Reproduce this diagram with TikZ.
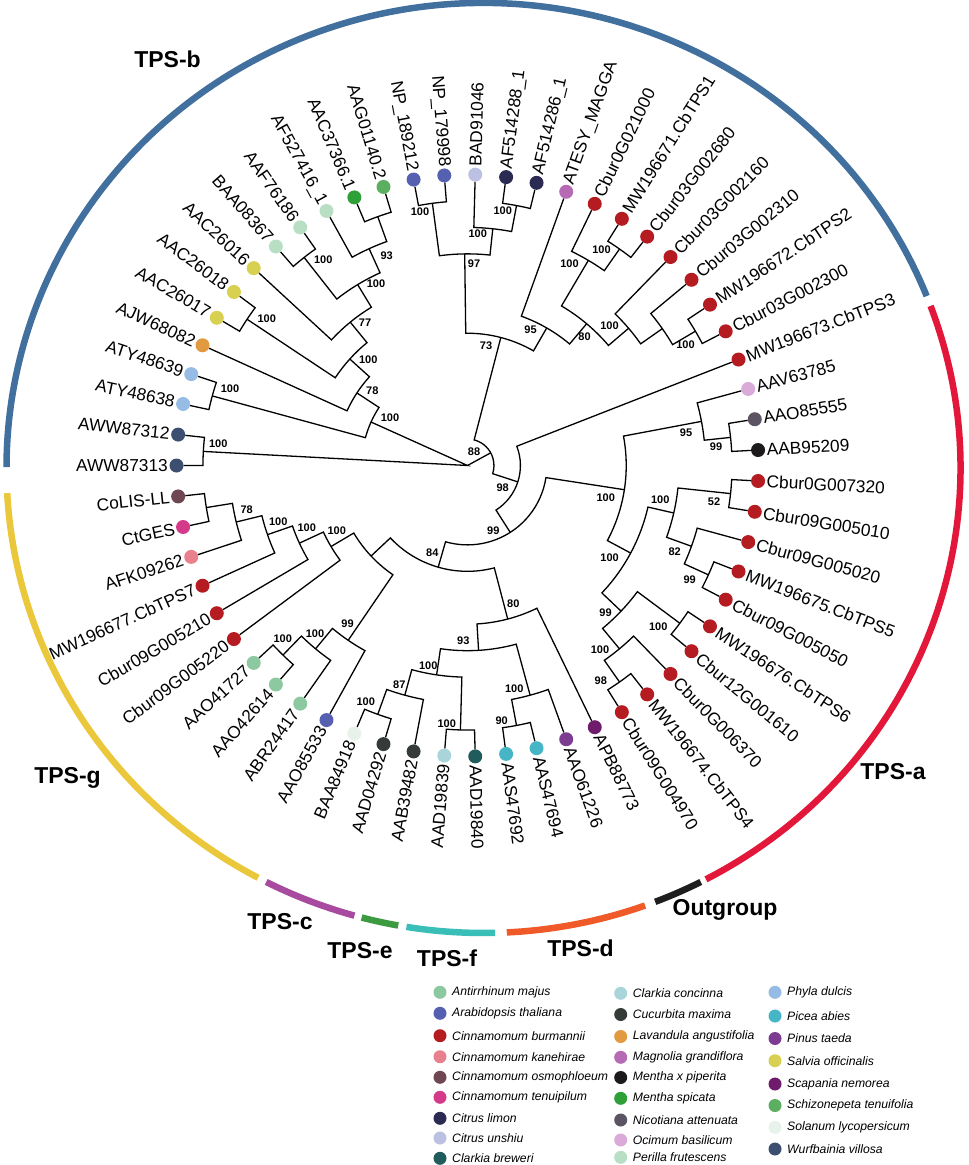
\documentclass[tikz,border=0pt]{standalone}
\usepackage{fontspec}
\setmainfont{Liberation Sans}
% species colours
\definecolor{cAnt}{HTML}{8CC8A0}
\definecolor{cAra}{HTML}{5561B0}
\definecolor{cBur}{HTML}{B51C22}
\definecolor{cKan}{HTML}{E8808E}
\definecolor{cOsm}{HTML}{6E4752}
\definecolor{cTen}{HTML}{D43A8A}
\definecolor{cLim}{HTML}{2B2A52}
\definecolor{cUns}{HTML}{BCC0E2}
\definecolor{cBre}{HTML}{215C5C}
\definecolor{cCon}{HTML}{A9D5DA}
\definecolor{cCuc}{HTML}{353C38}
\definecolor{cLav}{HTML}{E29A40}
\definecolor{cMag}{HTML}{B66AB4}
\definecolor{cPip}{HTML}{1C1A1A}
\definecolor{cSpi}{HTML}{2F9F38}
\definecolor{cNic}{HTML}{5C5462}
\definecolor{cOci}{HTML}{DAAAD8}
\definecolor{cPer}{HTML}{B8DFC4}
\definecolor{cPhy}{HTML}{96BCE6}
\definecolor{cPic}{HTML}{46B6C6}
\definecolor{cPin}{HTML}{7C3C92}
\definecolor{cSal}{HTML}{D8D050}
\definecolor{cSca}{HTML}{701C6C}
\definecolor{cSch}{HTML}{5CAE60}
\definecolor{cSol}{HTML}{E6F2EA}
\definecolor{cWur}{HTML}{3C4F70}
% ring colours
\definecolor{rB}{HTML}{42709E}
\definecolor{rA}{HTML}{E3173A}
\definecolor{rG}{HTML}{EAC73B}
\definecolor{rC}{HTML}{A84BA0}
\definecolor{rE}{HTML}{3C9A40}
\definecolor{rF}{HTML}{3ABFB8}
\definecolor{rD}{HTML}{EF5A28}
\definecolor{rO}{HTML}{1E1E1E}
\tikzset{
  branch/.style = {line width=1.3pt, black},
  leafdot/.style = {circle, inner sep=0pt, minimum size=14pt},
  tiplabel/.style = {font=\fontsize{17.3}{19}\selectfont, inner sep=0pt},
  boot/.style = {font=\bfseries\fontsize{11}{12}\selectfont, inner sep=0pt},
  ringseg/.style = {line width=6.5pt},
  grouplabel/.style = {font=\bfseries\fontsize{23}{25}\selectfont, inner sep=0pt},
  keydot/.style = {circle, inner sep=0pt, minimum size=13pt},
  keytext/.style = {font=\itshape\fontsize{12.2}{14}\selectfont, anchor=west, inner sep=0pt},
}
% internal node: name, angle, level above the tips
\newcommand\inode[3]{\coordinate (#1) at (#2:{\R-#3*\S});}
% clade: level, angle and name of first child, angle and name of second child
\newcommand\clade[5]{\draw[branch] (#3) -- (#2:{\R-#1*\S}) arc[start angle=#2, end angle=#4, radius={\R-#1*\S}] -- (#5);}
\newcommand\ring[3]{\draw[ringseg, #1] ({477*cos(#2)},{465*sin(#2)}) arc[start angle=#2, end angle=#3, x radius=477, y radius=465];}

\begin{document}
\begin{tikzpicture}[x=1pt,y=1pt]
\useasboundingbox (0,0) rectangle (969,-1165);
\def\R{291}
\def\S{26.4545}
\def\Rt{299.5}

% outer ring
\begin{scope}[shift={(483.5,-468)}]
\ring{rB}{21.7}{179.9}
\ring{rA}{20.4}{-62.2}
\ring{rO}{-62.9}{-68.9}
\ring{rD}{-70.2}{-87.2}
\ring{rF}{-88.6}{-99.3}
\ring{rE}{-100.3}{-104.8}
\ring{rC}{-105.7}{-117.1}
\ring{rG}{-118.2}{-176.9}
\end{scope}

\node[grouplabel] (gB) at (167.5,-59) {TPS-b};
\node[grouplabel] (gA) at (893,-772) {TPS-a};
\node[grouplabel] (gO) at (725,-910) {Outgroup};
\node[grouplabel] (gD) at (580.5,-948) {TPS-d};
\node[grouplabel] (gF) at (447,-958) {TPS-f};
\node[grouplabel] (gE) at (360,-951) {TPS-e};
\node[grouplabel] (gC) at (280,-922) {TPS-c};
\node[grouplabel] (gG) at (67.5,-778) {TPS-g};

% tree
\begin{scope}[shift={(467.5,-465.5)}]
\coordinate (root) at (0,0);
\foreach \k/\txt/\col in {
  1/AWW87313/cWur, 2/AWW87312/cWur, 3/ATY48638/cPhy, 4/ATY48639/cPhy, 5/AJW68082/cLav,
  6/AAC26017/cSal, 7/AAC26018/cSal, 8/AAC26016/cSal, 9/BAA08367/cPer, 10/AAF76186/cPer,
  11/AF527416\_1/cPer, 12/AAC37366.1/cSpi, 13/AAG01140.2/cSch, 14/NP\_189212/cAra, 15/NP\_179998/cAra,
  16/BAD91046/cUns, 17/AF514288\_1/cLim, 18/AF514286\_1/cLim, 19/ATESY\_MAGGA/cMag, 20/Cbur0G021000/cBur,
  21/MW196671.CbTPS1/cBur, 22/Cbur03G002680/cBur, 23/Cbur03G002160/cBur, 24/Cbur03G002310/cBur, 25/MW196672.CbTPS2/cBur,
  26/Cbur03G002300/cBur, 27/MW196673.CbTPS3/cBur, 28/AAV63785/cOci, 29/AAO85555/cNic, 30/AAB95209/cPip,
  31/Cbur0G007320/cBur, 32/Cbur09G005010/cBur, 33/Cbur09G005020/cBur, 34/MW196675.CbTPS5/cBur, 35/Cbur09G005050/cBur,
  36/MW196676.CbTPS6/cBur, 37/Cbur12G001610/cBur, 38/Cbur0G006370/cBur, 39/MW196674.CbTPS4/cBur, 40/Cbur09G004970/cBur,
  41/APB88773/cSca, 42/AAO61226/cPin, 43/AAS47694/cPic, 44/AAS47692/cPic, 45/AAD19840/cBre,
  46/AAD19839/cCon, 47/AAB39482/cCuc, 48/AAD04292/cCuc, 49/BAA84918/cSol, 50/AAO85533/cAra,
  51/ABR24417/cAnt, 52/AAO42614/cAnt, 53/AAO41727/cAnt, 54/Cbur09G005220/cBur, 55/Cbur09G005210/cBur,
  56/MW196677.CbTPS7/cBur, 57/AFK09262/cKan, 58/CtGES/cTen, 59/CoLIS-LL/cOsm}{
  \pgfmathsetmacro\a{180-(\k-1)*6.101695}
  \pgfmathtruncatemacro\flip{or(\a>90,\a<-90)}
  \node[leafdot, fill=\col] (l\k) at (\a:\R) {};
  \ifnum\flip=1
    \pgfmathsetmacro\b{\a+180}
    \node[tiplabel, rotate=\b, anchor=east] (t\k) at (\a:\Rt) {\txt};
  \else
    \node[tiplabel, rotate=\a, anchor=west] (t\k) at (\a:\Rt) {\txt};
  \fi
}

\inode{nAWW}{176.95}{1}
\inode{nB1}{155.74}{7}
\inode{nATY}{164.75}{1}
\inode{n78}{146.73}{6}
\inode{nB5}{137.86}{5}
\inode{nS67}{146.44}{1}
\inode{n77}{129.28}{4}
\inode{nB3}{121.27}{3}
\inode{nP910}{128.14}{1}
\inode{n93}{114.41}{2}
\inode{nM1213}{109.83}{1}
\inode{n88}{28.69}{10}
\inode{n73}{75.41}{6}
\inode{n97}{90.76}{3}
\inode{nNP}{97.63}{1}
\inode{nBAD}{83.90}{2}
\inode{nAF}{79.32}{1}
\inode{n95b}{60.06}{5}
\inode{n80b}{49.96}{4}
\inode{nCx}{59.50}{2}
\inode{nC2122}{54.92}{1}
\inode{nCy}{40.42}{3}
\inode{nC2426}{35.09}{2}
\inode{nC2526}{30.51}{1}
\inode{n98}{-18.03}{9}
\inode{n99}{-57.42}{8}
\inode{nR}{-8.77}{5}
\inode{nOut}{10.68}{2}
\inode{nOut2}{6.10}{1}
\inode{nA}{-28.22}{4}
\inode{nA1}{-12.97}{3}
\inode{nA52}{-6.10}{1}
\inode{nA82}{-19.83}{2}
\inode{nA99}{-24.41}{1}
\inode{nA2}{-43.48}{3}
\inode{nA36}{-36.61}{1}
\inode{nA3}{-50.34}{2}
\inode{nA98}{-54.92}{1}
\inode{n84}{-106.07}{7}
\inode{n80}{-75.32}{5}
\inode{n93d}{-86.57}{4}
\inode{nD}{-74.75}{2}
\inode{nD90}{-79.32}{1}
\inode{nEF}{-98.39}{3}
\inode{nF}{-91.53}{1}
\inode{n87}{-105.26}{2}
\inode{nE}{-109.83}{1}
\inode{nGC}{-136.81}{6}
\inode{nC99}{-124.32}{3}
\inode{nC1}{-129.66}{2}
\inode{nC5253}{-134.24}{1}
\inode{nG3}{-149.30}{5}
\inode{nG2}{-155.21}{4}
\inode{nG1}{-160.93}{3}
\inode{nG78}{-166.27}{2}
\inode{nGcc}{-170.85}{1}

\draw[branch] (nAWW) -- (root) -- (nB1);
\draw[branch] (root) -- (n88);
\clade{1}{180}{l1}{173.898}{l2}
\clade{7}{164.75}{nATY}{146.73}{n78}
\clade{1}{167.797}{l3}{161.695}{l4}
\clade{6}{155.593}{l5}{137.86}{nB5}
\clade{5}{146.44}{nS67}{129.28}{n77}
\clade{1}{149.492}{l6}{143.390}{l7}
\clade{4}{137.288}{l8}{121.27}{nB3}
\clade{3}{128.14}{nP910}{114.41}{n93}
\clade{1}{131.186}{l9}{125.085}{l10}
\clade{2}{118.983}{l11}{109.83}{nM1213}
\clade{1}{112.881}{l12}{106.780}{l13}
\clade{10}{75.41}{n73}{-18.03}{n98}
\clade{6}{90.76}{n97}{60.06}{n95b}
\clade{3}{97.63}{nNP}{83.90}{nBAD}
\clade{1}{100.678}{l14}{94.576}{l15}
\clade{2}{88.475}{l16}{79.32}{nAF}
\clade{1}{82.373}{l17}{76.271}{l18}
\clade{5}{70.169}{l19}{49.96}{n80b}
\clade{4}{59.50}{nCx}{40.42}{nCy}
\clade{2}{64.068}{l20}{54.92}{nC2122}
\clade{1}{57.966}{l21}{51.864}{l22}
\clade{3}{45.763}{l23}{35.09}{nC2426}
\clade{2}{39.661}{l24}{30.51}{nC2526}
\clade{1}{33.559}{l25}{27.458}{l26}
\clade{9}{21.356}{l27}{-57.42}{n99}
\clade{8}{-8.77}{nR}{-106.07}{n84}
\clade{5}{10.68}{nOut}{-28.22}{nA}
\clade{2}{15.254}{l28}{6.10}{nOut2}
\clade{1}{9.153}{l29}{3.051}{l30}
\clade{4}{-12.97}{nA1}{-43.48}{nA2}
\clade{3}{-6.10}{nA52}{-19.83}{nA82}
\clade{1}{-3.051}{l31}{-9.153}{l32}
\clade{2}{-15.254}{l33}{-24.41}{nA99}
\clade{1}{-21.356}{l34}{-27.458}{l35}
\clade{3}{-36.61}{nA36}{-50.34}{nA3}
\clade{1}{-33.559}{l36}{-39.661}{l37}
\clade{2}{-45.763}{l38}{-54.92}{nA98}
\clade{1}{-51.864}{l39}{-57.966}{l40}
\clade{7}{-75.32}{n80}{-136.81}{nGC}
\clade{5}{-64.068}{l41}{-86.57}{n93d}
\clade{4}{-74.75}{nD}{-98.39}{nEF}
\clade{2}{-70.169}{l42}{-79.32}{nD90}
\clade{1}{-76.271}{l43}{-82.373}{l44}
\clade{3}{-91.53}{nF}{-105.26}{n87}
\clade{1}{-88.475}{l45}{-94.576}{l46}
\clade{2}{-100.678}{l47}{-109.83}{nE}
\clade{1}{-106.780}{l48}{-112.881}{l49}
\clade{6}{-124.32}{nC99}{-149.30}{nG3}
\clade{3}{-118.983}{l50}{-129.66}{nC1}
\clade{2}{-125.085}{l51}{-134.24}{nC5253}
\clade{1}{-131.186}{l52}{-137.288}{l53}
\clade{5}{-143.390}{l54}{-155.21}{nG2}
\clade{4}{-149.492}{l55}{-160.93}{nG1}
\clade{3}{-155.593}{l56}{-166.27}{nG78}
\clade{2}{-161.695}{l57}{-170.85}{nGcc}
\clade{1}{-167.797}{l58}{-173.898}{l59}
\end{scope}

% bootstrap values
\foreach \x/\y/\v [count=\i] in {218.3/443.3/100, 230/388.3/100, 390/417.3/100, 372.3/391/78,
  368.3/360/100, 266.7/319/100, 365/322.7/77, 376/284/100, 323.3/260/100, 386.7/256/93,
  420/211.3/100, 477.7/234/100, 502.8/210.3/100, 474/264/97, 486/345.7/73, 474/451.7/88,
  530.5/330/95, 584.5/336.7/80, 569.5/263.3/100, 601.5/250/100, 609.5/325.3/100, 685.5/345/100,
  502.7/487.7/98, 493.3/531/99, 605.8/497.5/100, 686/432.8/95, 716/447/99, 660.3/499.3/100,
  714/501.3/52, 674.7/552.2/82, 689.7/579.3/99, 609.6/557.5/100, 605.5/612.7/99, 658.3/626.3/100,
  600/649.6/100, 600.8/680.3/98, 432.3/552.5/84, 513.3/604/80, 463.3/641/93, 514.2/688.8/100,
  501.7/720.5/90, 428.3/665.7/100, 446.7/724/100, 399.3/684.3/87, 365.7/701.7/100, 347.5/624/99,
  315/633.3/100, 282.7/638.3/100, 336.7/531/100, 306.7/527.3/100, 278.3/521.7/100, 246.7/509.3/78}
  \node[boot] (b\i) at (\x,-\y) {\v};

% legend
\foreach \x/\y/\c/\s [count=\i] in {
  440/992.3/cAnt/Antirrhinum majus, 440/1013.3/cAra/Arabidopsis thaliana,
  440/1035.7/cBur/Cinnamomum burmannii, 440/1056.7/cKan/Cinnamomum kanehirae,
  440/1077.3/cOsm/Cinnamomum osmophloeum, 440/1097.3/cTen/Cinnamomum tenuipilum,
  440/1118.3/cLim/Citrus limon, 440/1138/cUns/Citrus unshiu, 440/1158.3/cBre/Clarkia breweri,
  620.7/993.3/cCon/Clarkia concinna, 620.7/1014.5/cCuc/Cucurbita maxima,
  620.7/1036.5/cLav/Lavandula angustifolia, 620.7/1057.3/cMag/Magnolia grandiflora,
  620.7/1077.5/cPip/Mentha x piperita, 620.7/1098.3/cSpi/Mentha spicata,
  620.7/1120/cNic/Nicotiana attenuata, 620.7/1140/cOci/Ocimum basilicum,
  620.7/1157.3/cPer/Perilla frutescens,
  775/992.3/cPhy/Phyla dulcis, 775/1016/cPic/Picea abies, 775/1038.5/cPin/Pinus taeda,
  775/1060.7/cSal/Salvia officinalis, 775/1084/cSca/Scapania nemorea,
  775/1105.5/cSch/Schizonepeta tenuifolia, 775/1127.3/cSol/Solanum lycopersicum,
  775/1149/cWur/Wurfbainia villosa}{
  \node[keydot, fill=\c] (k\i) at (\x,-\y) {};
  \node[keytext] (s\i) at (\x+12,-\y) {\s};
}
\end{tikzpicture}
\end{document}
